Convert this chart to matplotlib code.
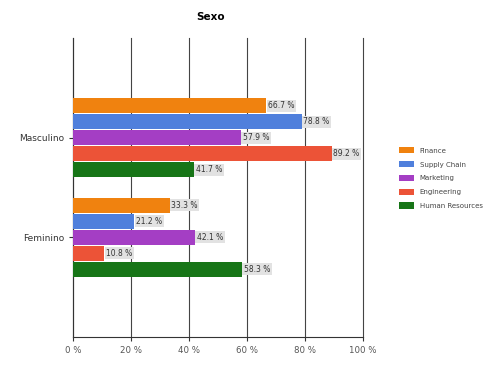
import numpy as np
import matplotlib
matplotlib.use("Agg")
import matplotlib.pyplot as plt

categories = ["Masculino", "Feminino"]
series = ["Finance", "Supply Chain", "Marketing", "Engineering", "Human Resources"]
values = {
    "Finance": [66.7, 33.3],
    "Supply Chain": [78.8, 21.2],
    "Marketing": [57.9, 42.1],
    "Engineering": [89.2, 10.8],
    "Human Resources": [41.7, 58.3],
}
colors = ["#f0820f", "#4f7fdc", "#a43ec4", "#ec5337", "#177517"]
xticks = [0, 20, 40, 60, 80, 100]

fig = plt.figure(figsize=(5, 3.71), dpi=100)
ax = fig.add_axes([0.146, 0.0916, 0.58, 0.806])

h = 0.16
ypos = np.arange(len(categories))
for i, (name, c) in enumerate(zip(series, colors)):
    y = ypos - 2 * h + i * h
    vals = values[name]
    ax.barh(y, vals, height=h * 0.92, color=c, linewidth=0, label=name, zorder=3)
    for yy, v in zip(y, vals):
        ax.text(v + 0.6, yy, "%.1f %%" % v, fontsize=5.5, va="center", ha="left", color="#333333",
                bbox=dict(boxstyle="square,pad=0.2", fc="#e2e2e2", ec="none"), zorder=4)

ax.set_xlim(0, 100)
ax.set_ylim(2, -1)
ax.set_yticks(ypos)
ax.set_yticklabels(categories, fontsize=6.5, color="#333333")
ax.set_xticks(xticks)
ax.set_xticklabels(["%d %%" % t for t in xticks], fontsize=6.2, color="#555555")
ax.xaxis.grid(True, color="#444444", linewidth=0.8, zorder=0)
for gl in ax.get_xgridlines():
    gl.set_clip_on(False)
ax.tick_params(axis="x", length=3, width=0.8, color="#333333")
ax.tick_params(axis="y", length=3, width=0.8, color="#333333")
for s in ["top", "right"]:
    ax.spines[s].set_visible(False)
ax.spines["left"].set_color("#333333")
ax.spines["bottom"].set_color("#333333")

ax.set_title("Sexo", fontsize=7.5, fontweight="bold", x=0.475, pad=13)

fig.legend(loc="center left", bbox_to_anchor=(0.785, 0.52), fontsize=5, frameon=False,
           handlelength=2.2, handleheight=1.0, labelspacing=1.05, labelcolor="#444444")

fig.savefig("out.png", dpi=100)
